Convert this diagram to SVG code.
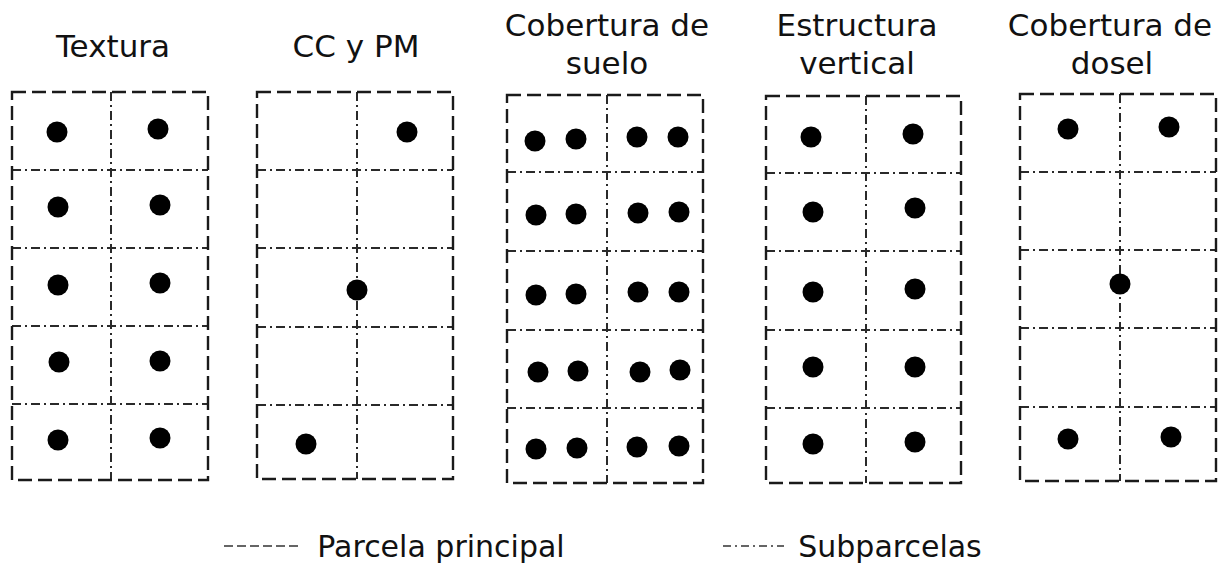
<svg xmlns="http://www.w3.org/2000/svg" width="1219" height="566" viewBox="0 0 1219 566">
<style>
text{font-family:"DejaVu Sans","Verdana",sans-serif;font-size:30px;fill:#111;text-anchor:middle}
.title{font-size:31px}
.outer{fill:none;stroke:#1a1a1a;stroke-width:2.4;stroke-dasharray:14 6}
.sub{fill:none;stroke:#2a2a2a;stroke-width:2;stroke-dasharray:9 4 2 4}
.dot{fill:#000}
.leg1{fill:none;stroke:#333;stroke-width:1.5;stroke-dasharray:9 4}
.leg2{fill:none;stroke:#333;stroke-width:1.5;stroke-dasharray:8 4 2 4}
</style>
<g id="textura">
<text class="title" x="113" y="57">Textura</text>
<path class="sub" d="M111 92V480M12 170H208M12 248H208M12 326H208M12 404H208"/>
<rect class="outer" x="12" y="92" width="196" height="388"/>
<g class="dot">
<circle cx="57" cy="132" r="10.5"/><circle cx="158" cy="129" r="10.5"/>
<circle cx="58" cy="207" r="10.5"/><circle cx="160" cy="205" r="10.5"/>
<circle cx="58" cy="285" r="10.5"/><circle cx="160" cy="283" r="10.5"/>
<circle cx="59" cy="362" r="10.5"/><circle cx="160" cy="361" r="10.5"/>
<circle cx="58" cy="440" r="10.5"/><circle cx="160" cy="438" r="10.5"/>
</g>
</g>
<g id="ccypm">
<text class="title" x="356" y="57">CC y PM</text>
<path class="sub" d="M357 92V479M257 170H453M257 248H453M257 327H453M257 405H453"/>
<rect class="outer" x="257" y="92" width="196" height="387"/>
<g class="dot">
<circle cx="407" cy="132" r="10.5"/>
<circle cx="357" cy="290" r="10.5"/>
<circle cx="306" cy="444" r="10.5"/>
</g>
</g>
<g id="cobertura-suelo">
<text class="title" x="607" y="36">Cobertura de</text>
<text class="title" x="607" y="74">suelo</text>
<path class="sub" d="M607 95V483M507 172H703M507 251H703M507 330H703M507 408H703"/>
<rect class="outer" x="507" y="95" width="196" height="388"/>
<g class="dot">
<circle cx="535" cy="141" r="10.5"/><circle cx="576" cy="139" r="10.5"/><circle cx="637" cy="137" r="10.5"/><circle cx="678" cy="137" r="10.5"/>
<circle cx="536" cy="215" r="10.5"/><circle cx="576" cy="214" r="10.5"/><circle cx="638" cy="213" r="10.5"/><circle cx="679" cy="212" r="10.5"/>
<circle cx="536" cy="295" r="10.5"/><circle cx="576" cy="294" r="10.5"/><circle cx="638" cy="292" r="10.5"/><circle cx="679" cy="292" r="10.5"/>
<circle cx="538" cy="372" r="10.5"/><circle cx="578" cy="371" r="10.5"/><circle cx="640" cy="372" r="10.5"/><circle cx="680" cy="370" r="10.5"/>
<circle cx="536" cy="449" r="10.5"/><circle cx="577" cy="448" r="10.5"/><circle cx="637" cy="447" r="10.5"/><circle cx="679" cy="446" r="10.5"/>
</g>
</g>
<g id="estructura-vertical">
<text class="title" x="857" y="36">Estructura</text>
<text class="title" x="857" y="74">vertical</text>
<path class="sub" d="M866 96V483M766 173H961M766 251H961M766 330H961M766 408H961"/>
<rect class="outer" x="766" y="96" width="195" height="387"/>
<g class="dot">
<circle cx="811" cy="137" r="10.5"/><circle cx="913" cy="134" r="10.5"/>
<circle cx="813" cy="212" r="10.5"/><circle cx="915" cy="208" r="10.5"/>
<circle cx="813" cy="292" r="10.5"/><circle cx="915" cy="289" r="10.5"/>
<circle cx="813" cy="367" r="10.5"/><circle cx="915" cy="367" r="10.5"/>
<circle cx="813" cy="444" r="10.5"/><circle cx="915" cy="442" r="10.5"/>
</g>
</g>
<g id="cobertura-dosel">
<text class="title" x="1110" y="36">Cobertura de</text>
<text class="title" x="1112" y="74">dosel</text>
<path class="sub" d="M1120 94V481M1020 172H1216M1020 250H1216M1020 328H1216M1020 407H1216"/>
<rect class="outer" x="1020" y="94" width="196" height="387"/>
<g class="dot">
<circle cx="1068" cy="129" r="10.5"/><circle cx="1169" cy="127" r="10.5"/>
<circle cx="1120" cy="284" r="10.5"/>
<circle cx="1068" cy="439" r="10.5"/><circle cx="1171" cy="437" r="10.5"/>
</g>
</g>
<g id="legend">
<path class="leg1" d="M224 546H298"/>
<text x="441" y="557">Parcela principal</text>
<path class="leg2" d="M723 546H784"/>
<text x="890" y="557">Subparcelas</text>
</g>
</svg>
